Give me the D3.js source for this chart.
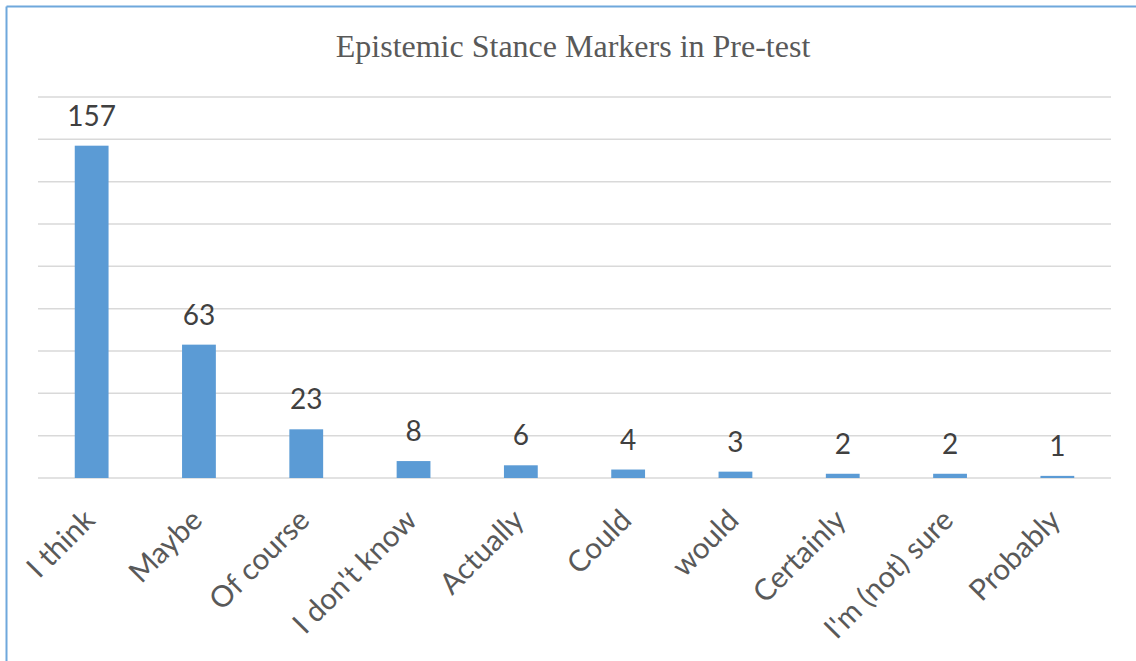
<!DOCTYPE html>
<html>
<head>
<meta charset="utf-8">
<script src="https://cdn.jsdelivr.net/npm/d3@7"></script>
<style>
  html, body { margin: 0; padding: 0; background: #fff; }
  svg { display: block; }
</style>
</head>
<body>
<svg id="chart" width="1136" height="661"></svg>
<script>
// Epistemic stance markers counted in the pre-test
const categories = ["I think", "Maybe", "Of course", "I don't know", "Actually", "Could", "would", "Certainly", "I'm (not) sure", "Probably"];
const counts = [157, 63, 23, 8, 6, 4, 3, 2, 2, 1];
const gridTicks = [0, 20, 40, 60, 80, 100, 120, 140, 160, 180];
const title = "Epistemic Stance Markers in Pre-test";

const W = 1136, H = 661;
const margin = { left: 38, right: 25, top: 97, bottom: 183 };
const svg = d3.select("#chart");

// Chart frame (top and left edges visible)
svg.append("line").attr("x1", 6.5).attr("x2", W).attr("y1", 6.5).attr("y2", 6.5)
  .attr("stroke", "#6FA8DC").attr("stroke-width", 2);
svg.append("line").attr("x1", 6.5).attr("x2", 6.5).attr("y1", 6.5).attr("y2", H)
  .attr("stroke", "#6FA8DC").attr("stroke-width", 2);

const x = d3.scaleBand()
  .domain(categories)
  .range([margin.left, W - margin.right])
  .paddingInner(0.685)
  .paddingOuter(0.3425);

const y = d3.scaleLinear()
  .domain([0, 180])
  .range([H - margin.bottom, margin.top]);

// Horizontal gridlines
svg.append("g")
  .selectAll("line")
  .data(gridTicks)
  .join("line")
  .attr("x1", margin.left)
  .attr("x2", W - margin.right)
  .attr("y1", d => y(d))
  .attr("y2", d => y(d))
  .attr("stroke", "#D9D9D9")
  .attr("stroke-width", 1.5);

// Bars
svg.append("g")
  .selectAll("rect")
  .data(counts)
  .join("rect")
  .attr("x", (d, i) => x(categories[i]))
  .attr("width", x.bandwidth())
  .attr("y", d => y(d))
  .attr("height", d => y(0) - y(d))
  .attr("fill", "#5B9BD5");

// Value labels
svg.append("g")
  .selectAll("text")
  .data(counts)
  .join("text")
  .attr("x", (d, i) => x(categories[i]) + x.bandwidth() / 2)
  .attr("y", d => y(d) - 20)
  .attr("text-anchor", "middle")
  .attr("font-family", "Lato, 'Open Sans', sans-serif")
  .attr("font-size", 28)
  .attr("fill", "#404040")
  .text(d => d);

// Category axis labels, rotated
const xAxis = d3.axisBottom(x).tickSize(0).tickPadding(0);
const gx = svg.append("g")
  .attr("transform", `translate(0,${y(0)})`)
  .call(xAxis);
gx.select(".domain").remove();
gx.selectAll("text")
  .attr("font-family", "Lato, 'Open Sans', sans-serif")
  .attr("font-size", 29.5)
  .attr("fill", "#595959")
  .attr("text-anchor", "end")
  .attr("dy", null)
  .attr("y", 0)
  .attr("transform", "translate(5,44) rotate(-45)");

// Title
svg.append("text")
  .attr("x", 573)
  .attr("y", 57)
  .attr("text-anchor", "middle")
  .attr("font-family", "'Liberation Serif', 'Times New Roman', serif")
  .attr("font-size", 32)
  .attr("fill", "#595959")
  .text(title);
</script>
</body>
</html>
